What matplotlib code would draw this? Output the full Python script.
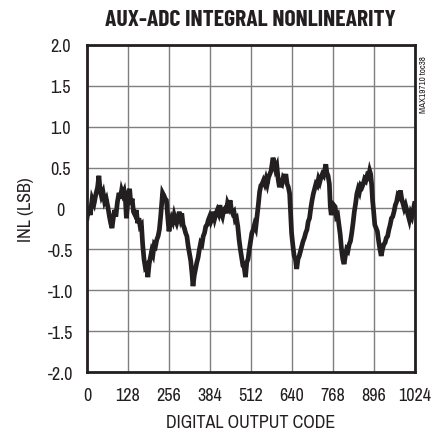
import matplotlib.pyplot as plt
import numpy as np

plt.rcParams['font.family'] = ['Archivo Narrow', 'DejaVu Sans']

# digital output code and INL (LSB)
code = [0, 5, 10, 16, 22, 28, 33, 37, 41, 45, 50, 55, 60, 65, 70, 74, 78, 82, 86, 90,
        95, 100, 104, 108, 112, 116, 120, 123, 126, 130, 133, 137, 141, 145, 150, 154,
        158, 162, 166, 170, 174, 178, 182, 186, 190, 194, 198, 202, 206, 210, 214, 218,
        222, 226, 230, 233, 236, 240, 244, 248, 252, 256, 260, 264, 268, 272, 276, 280,
        284, 288, 292, 296, 300, 304, 308, 312, 316, 320, 324, 328, 331, 335, 339, 343,
        347, 351, 355, 359, 363, 367, 371, 375, 379, 383, 387, 391, 395, 399, 403, 407,
        411, 415, 419, 423, 427, 431, 435, 439, 443, 447, 451, 455, 459, 463, 467, 471,
        475, 479, 483, 487, 491, 495, 499, 503, 507, 511, 515, 519, 523, 527, 531, 535,
        539, 543, 547, 551, 555, 559, 563, 567, 571, 575, 578, 581, 585, 589, 593, 597,
        601, 605, 609, 613, 617, 621, 625, 629, 633, 636, 639, 643, 647, 651, 655, 659,
        663, 667, 671, 675, 679, 683, 687, 691, 695, 699, 703, 707, 711, 715, 719, 723,
        727, 731, 735, 739, 743, 746, 749, 753, 757, 760, 763, 767, 771, 775, 779, 783,
        787, 791, 795, 799, 803, 807, 811, 815, 819, 823, 827, 831, 835, 839, 843, 847,
        851, 855, 859, 863, 867, 871, 875, 879, 883, 886, 889, 892, 895, 899, 903, 907,
        911, 915, 919, 923, 927, 931, 935, 939, 943, 947, 951, 955, 959, 963, 967, 971,
        975, 979, 983, 987, 991, 995, 999, 1003, 1007, 1011, 1015, 1019, 1023]
inl = [-0.12, 0.02, -0.08, 0.12, 0.06, 0.18, 0.26, 0.40, 0.22, 0.15, 0.20, 0.08, 0.12, 0.02,
       -0.10, -0.18, -0.24, -0.12, -0.02, -0.10, 0.08, 0.19, 0.12, 0.22, 0.17, 0.21, 0.10,
       -0.12, 0.02, 0.20, 0.24, 0.05, 0.12, -0.04, -0.08, -0.02, -0.18, -0.12, -0.22, -0.20,
       -0.45, -0.62, -0.72, -0.70, -0.84, -0.68, -0.60, -0.52, -0.56, -0.44, -0.46, -0.38,
       -0.34, -0.26, -0.10, 0.05, 0.19, 0.16, 0.12, 0.10, -0.10, -0.28, -0.18, -0.12, -0.16,
       -0.08, -0.14, -0.18, -0.12, -0.04, -0.12, -0.06, -0.20, -0.24, -0.30, -0.34, -0.46,
       -0.55, -0.64, -0.80, -0.95, -0.82, -0.74, -0.66, -0.60, -0.50, -0.42, -0.44, -0.34,
       -0.30, -0.22, -0.20, -0.14, -0.10, -0.16, -0.12, -0.04, -0.12, -0.06, -0.02, -0.06,
       0.04, -0.06, -0.10, -0.02, 0.00, -0.06, 0.06, 0.02, 0.10, -0.02, -0.06, -0.04, -0.14,
       -0.12, -0.22, -0.38, -0.50, -0.60, -0.70, -0.72, -0.84, -0.66, -0.62, -0.50, -0.40,
       -0.30, -0.26, -0.20, -0.24, -0.10, 0.04, 0.20, 0.28, 0.30, 0.34, 0.30, 0.36, 0.30,
       0.38, 0.42, 0.46, 0.54, 0.62, 0.56, 0.48, 0.52, 0.36, 0.26, 0.32, 0.30, 0.38, 0.36,
       0.42, 0.30, 0.26, 0.18, -0.05, -0.30, -0.45, -0.58, -0.62, -0.74, -0.62, -0.58, -0.52,
       -0.46, -0.40, -0.36, -0.30, -0.26, -0.16, -0.12, 0.00, 0.10, 0.18, 0.24, 0.30, 0.28,
       0.36, 0.32, 0.38, 0.42, 0.40, 0.48, 0.54, 0.44, 0.40, 0.30, 0.02, -0.08, -0.02, 0.04,
       0.02, -0.10, -0.08, -0.20, -0.32, -0.50, -0.62, -0.68, -0.58, -0.50, -0.52, -0.44,
       -0.40, -0.30, -0.18, -0.04, 0.06, 0.18, 0.24, 0.20, 0.28, 0.26, 0.30, 0.36, 0.34,
       0.40, 0.38, 0.46, 0.42, 0.30, 0.10, -0.02, -0.20, -0.24, -0.28, -0.40, -0.50, -0.58,
       -0.50, -0.44, -0.42, -0.36, -0.34, -0.26, -0.20, -0.12, -0.10, -0.04, 0.04, 0.08,
       0.16, 0.14, 0.22, 0.12, 0.06, 0.00, 0.04, -0.02, -0.08, -0.14, -0.06, -0.10, -0.02,
       0.06]

xticks = [0, 128, 256, 384, 512, 640, 768, 896, 1024]
yticks = [2.0, 1.5, 1.0, 0.5, 0, -0.5, -1.0, -1.5, -2.0]
ytick_labels = ['2.0', '1.5', '1.0', '0.5', '0', '-0.5', '-1.0', '-1.5', '-2.0']

fig = plt.figure(figsize=(4.33, 4.35), dpi=100)
ax = fig.add_axes([0.201, 0.1425, 0.757, 0.752])

ax.plot(code, inl, color='#231f20', lw=3.4, solid_joinstyle='miter')

ax.set_xlim(0, 1024)
ax.set_ylim(-2.0, 2.0)
ax.set_xticks(xticks)
ax.set_yticks(yticks)
ax.set_yticklabels(ytick_labels)
ax.grid(True, color='#7f7f7f', lw=1.0)
ax.tick_params(length=0, labelsize=13, colors='#231f20')
ax.tick_params(axis='x', pad=11)
ax.tick_params(axis='y', pad=19)
for lab in ax.get_yticklabels():
    lab.set_horizontalalignment('center')
for s in ax.spines.values():
    s.set_linewidth(2.0)
    s.set_color('#231f20')

ax.set_xlabel('DIGITAL OUTPUT CODE', fontsize=13, color='#231f20', labelpad=8)
ax.set_ylabel('INL (LSB)', fontsize=13, color='#231f20', labelpad=10)
fig.text(0.578, 0.955, 'AUX-ADC INTEGRAL NONLINEARITY', ha='center', va='center',
         fontsize=17, fontweight='bold', color='#231f20',
         family=['Barlow Condensed', 'DejaVu Sans'])
fig.text(0.978, 0.805, 'MAX19710 toc38', rotation=90, ha='center', va='center',
         fontsize=6.5, color='#231f20')

fig.savefig('out.png', dpi=100)
